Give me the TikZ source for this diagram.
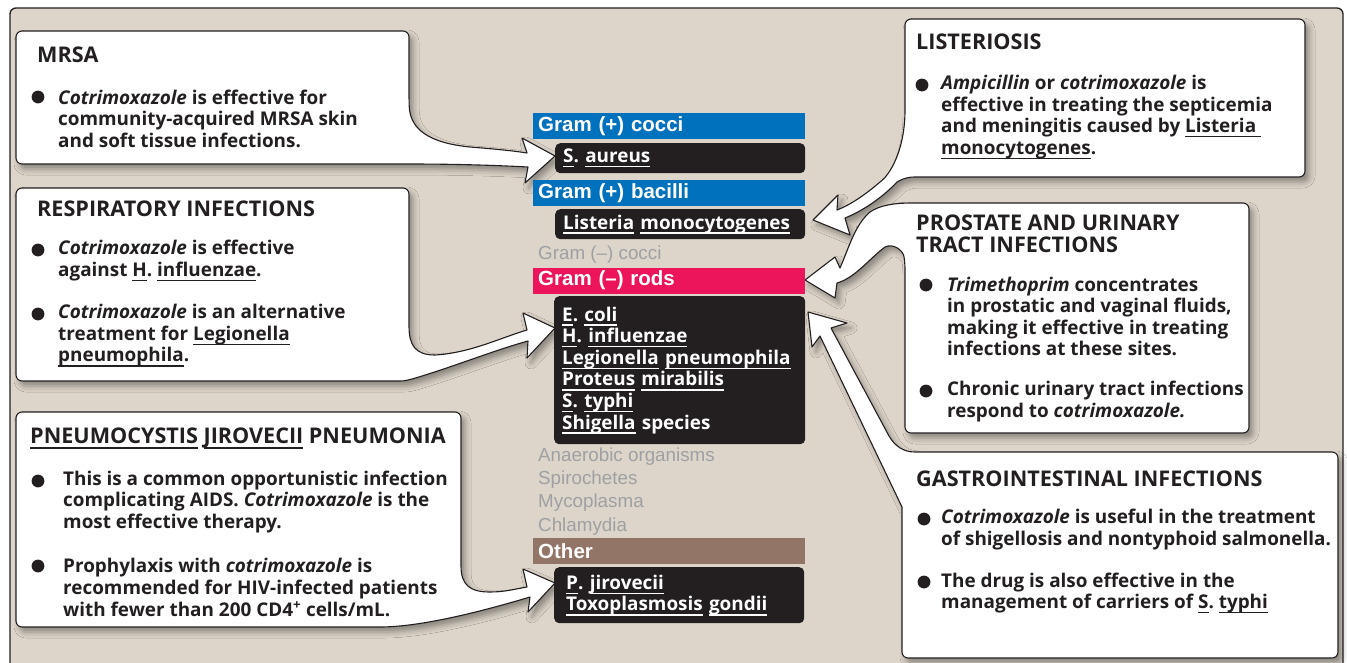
\documentclass[tikz,border=0pt]{standalone}
\usepackage{fontspec}
\setmainfont{Open Sans}
\newfontfamily\hv{Liberation Sans}
\usetikzlibrary{shadows.blur}
\frenchspacing
\definecolor{bg}{RGB}{221,213,201}
\definecolor{ink}{RGB}{35,31,32}
\definecolor{gblue}{RGB}{0,113,188}
\definecolor{gpink}{RGB}{236,20,90}
\definecolor{gbrown}{RGB}{147,117,104}
\definecolor{ggray}{RGB}{158,160,163}
\newcommand\bodyf{\fontsize{18.9}{21.6}\selectfont\bfseries}
\newcommand\headf{\fontsize{21.6}{22.5}\selectfont\bfseries}
\newcommand\barf{\hv\fontsize{20.5}{22}\selectfont\bfseries}
\newcommand\grayf{\hv\fontsize{18.8}{22}\selectfont}
\newcommand\uw[1]{\leavevmode\setbox0\hbox{#1}\rlap{\rule[-0.25em]{\wd0}{0.07em}}\box0\relax}
\tikzset{
  callout/.style={fill=white, draw=ink, line width=1.1pt, line join=round,
    blur shadow={shadow xshift=4pt, shadow yshift=-5pt, shadow blur radius=6pt, shadow opacity=38}},
  txt/.style={anchor=west, align=left, inner sep=0pt, font=\bodyf, text=ink},
  head/.style={anchor=west, align=left, inner sep=0pt, font=\headf, text=ink},
  bullet/.style={fill=ink},
  bar/.style={anchor=west, minimum height=26pt, text width=262pt, inner xsep=5pt, inner ysep=0pt,
    align=left, font=\barf, text=white},
  dbox/.style={anchor=north west, fill=ink, rounded corners=5pt, text=white, align=left,
    font=\bodyf, inner xsep=8pt, inner ysep=0pt, text width=234pt},
  gtxt/.style={anchor=west, inner sep=0pt, font=\grayf, text=ggray}
}
\begin{document}
\begin{tikzpicture}[x=1pt,y=-1pt]
\useasboundingbox (0,0) rectangle (1347,662);
\clip (0,0) rectangle (1347,662);
\fill[white] (0,0) rectangle (1347,662);
\draw[ink, line width=1.3pt, fill=bg, rounded corners=6pt] (10,8) rectangle (1343,720);

% ---------- left callouts ----------
\path[callout] (16,100) [rounded corners=6pt] -- (16,31) -- (409,31) -- (409,100) [sharp corners]
  .. controls (410,130) and (430,143) .. (470,147)
  .. controls (495,149) and (515,151) .. (527,153)
  -- (522,138) -- (555,156) -- (525,183) -- (528,167)
  .. controls (490,165) and (450,164) .. (409,164)
  [rounded corners=6pt] -- (16,164) -- cycle;

\path[callout] (16,280) [rounded corners=6pt] -- (16,188) -- (409,188) -- (409,320) [sharp corners]
  .. controls (409,345) and (415,355) .. (435,355)
  .. controls (470,353) and (500,338) .. (527,330)
  -- (523,313) -- (555,328) -- (527,358) -- (528,341)
  .. controls (495,350) and (450,368) .. (412,379)
  .. controls (408,380) and (405,381) .. (400,381)
  [rounded corners=6pt] -- (16,381) -- cycle;

\path[callout] (16,500) [rounded corners=6pt] -- (16,412) -- (461,412) -- (461,560) [sharp corners]
  .. controls (461,585) and (470,592) .. (490,592)
  .. controls (505,592) and (515,589) .. (527,587)
  -- (523,569) -- (555,583) -- (528,612) -- (530,597)
  .. controls (480,612) and (420,627) .. (380,627)
  [rounded corners=6pt] -- (16,627) -- cycle;

% ---------- right callouts ----------
\path[callout] (1100,19) [rounded corners=6pt] -- (1305,19) -- (1305,177) -- (920,177) [sharp corners]
  .. controls (910,177) and (903,178) .. (897,182)
  .. controls (885,195) and (865,210) .. (845,218)
  -- (850,235) -- (813,220) -- (838,195) -- (837,210)
  .. controls (850,205) and (865,195) .. (880,182)
  .. controls (890,175) and (905,150) .. (905,110)
  [rounded corners=6pt] -- (905,19) -- cycle;

\path[callout] (1100,203) [rounded corners=6pt] -- (1249,203) -- (1249,433) -- (905,433) -- (905,263) [sharp corners]
  .. controls (903,250) and (893,243) .. (885,247)
  .. controls (870,258) and (855,278) .. (837,283)
  -- (835,298) -- (805,280) -- (835,257) -- (840,268)
  .. controls (850,245) and (855,225) .. (870,212)
  .. controls (880,205) and (895,203) .. (912,203) -- cycle;

\path[callout] (1100,452) [rounded corners=6pt] -- (1338,452) -- (1338,658) -- (902,658) -- (902,560) [sharp corners]
  -- (902,507) -- (820,336) -- (812,347) -- (808,312) -- (847,323) -- (831,328) -- (889,436)
  .. controls (895,446) and (903,452) .. (915,452) -- cycle;

% ---------- texts left ----------
\node[head] (h1) at (37,55) {MRSA};
\fill[bullet] (38,97) circle (6.4);
\node[txt] (t1) at (58,118.5) {\textit{Cotrimoxazole} is effective for\\community-acquired MRSA skin\\and soft tissue infections.};

\node[head] (h2) at (37,209) {RESPIRATORY INFECTIONS};
\fill[bullet] (38,250) circle (6.4);
\node[txt] (t2a) at (58,260.5) {\textit{Cotrimoxazole} is effective\\against \uw{H}. \uw{influenzae}.};
\fill[bullet] (38,314) circle (6.4);
\node[txt] (t2b) at (58,335.5) {\textit{Cotrimoxazole} is an alternative\\treatment for \uw{Legionella}\\\uw{pneumophila}.};

\node[head] (h3) at (30,438) {\uw{PNEUMOCYSTIS} \uw{JIROVECII} PNEUMONIA};
\fill[bullet] (38,481) circle (6.4);
\node[txt] (t3a) at (63,502) {This is a common opportunistic infection\\complicating AIDS. \textit{Cotrimoxazole} is the\\most effective therapy.};
\fill[bullet] (38,566) circle (6.4);
\node[txt] (t3b) at (63,587.5) {Prophylaxis with \textit{cotrimoxazole} is\\recommended for HIV-infected patients\\with fewer than 200 CD4\textsuperscript{+} cells/mL.};

% ---------- texts right ----------
\node[head] (h4) at (916,42) {LISTERIOSIS};
\fill[bullet] (922,85) circle (6.4);
\node[txt] (t4) at (941,117) {\textit{Ampicillin} or \textit{cotrimoxazole} is\\effective in treating the septicemia\\and meningitis caused by \uw{Listeria\ }\\\uw{monocytogenes}.};

\node[head] (h5) at (916,234) {PROSTATE AND URINARY\\TRACT INFECTIONS};
\fill[bullet] (926,285) circle (6.4);
\node[txt] (t5a) at (947,316.5) {\textit{Trimethoprim} concentrates\\in prostatic and vaginal fluids,\\making it effective in treating\\infections at these sites.};
\fill[bullet] (926,391) circle (6.4);
\node[txt] (t5b) at (947,401.5) {Chronic urinary tract infections\\respond to \textit{cotrimoxazole.}};

\node[head] (h6) at (916,479) {GASTROINTESTINAL INFECTIONS};
\fill[bullet] (924,519) circle (6.4);
\node[txt] (t6a) at (941,529.5) {\textit{Cotrimoxazole} is useful in the treatment\\of shigellosis and nontyphoid salmonella.};
\fill[bullet] (924,582) circle (6.4);
\node[txt] (t6b) at (941,593) {The drug is also effective in the\\management of carriers of \uw{S}. \uw{typhi}};

% ---------- central column ----------
\node[bar, fill=gblue] (gpc) at (533,126) {Gram (+) cocci};
\node[dbox, minimum height=30pt] (sa) at (555,143) {\uw{S}. \uw{aureus}};
\node[bar, fill=gblue] (gpb) at (533,193) {Gram (+) bacilli};
\node[dbox, minimum height=30pt] (lm) at (555,209) {\uw{Listeria} \uw{monocytogenes}};
\node[gtxt] (gnc) at (538,255) {Gram (–) cocci};
\node[bar, fill=gpink] (gnr) at (533,280.5) {Gram (–) rods};
\node[dbox, minimum height=148pt, text width=235pt] (gn) at (554,296) {\uw{E}. \uw{coli}\\\uw{H}. \uw{influenzae}\\\uw{Legionella} \uw{pneumophila}\\\uw{Proteus} \uw{mirabilis}\\\uw{S}. \uw{typhi}\\\uw{Shigella} species};
\node[gtxt] (ana) at (538,457) {Anaerobic organisms};
\node[gtxt] (spi) at (538,480) {Spirochetes};
\node[gtxt] (myc) at (538,503) {Mycoplasma};
\node[gtxt] (chl) at (538,527) {Chlamydia};
\node[bar, fill=gbrown] (oth) at (533,551) {Other};
\node[dbox, minimum height=56pt, inner xsep=12pt, text width=226pt] (pj) at (554,567) {\uw{P}. \uw{jirovecii}\\\uw{Toxoplasmosis} \uw{gondii}};
\end{tikzpicture}
\end{document}
